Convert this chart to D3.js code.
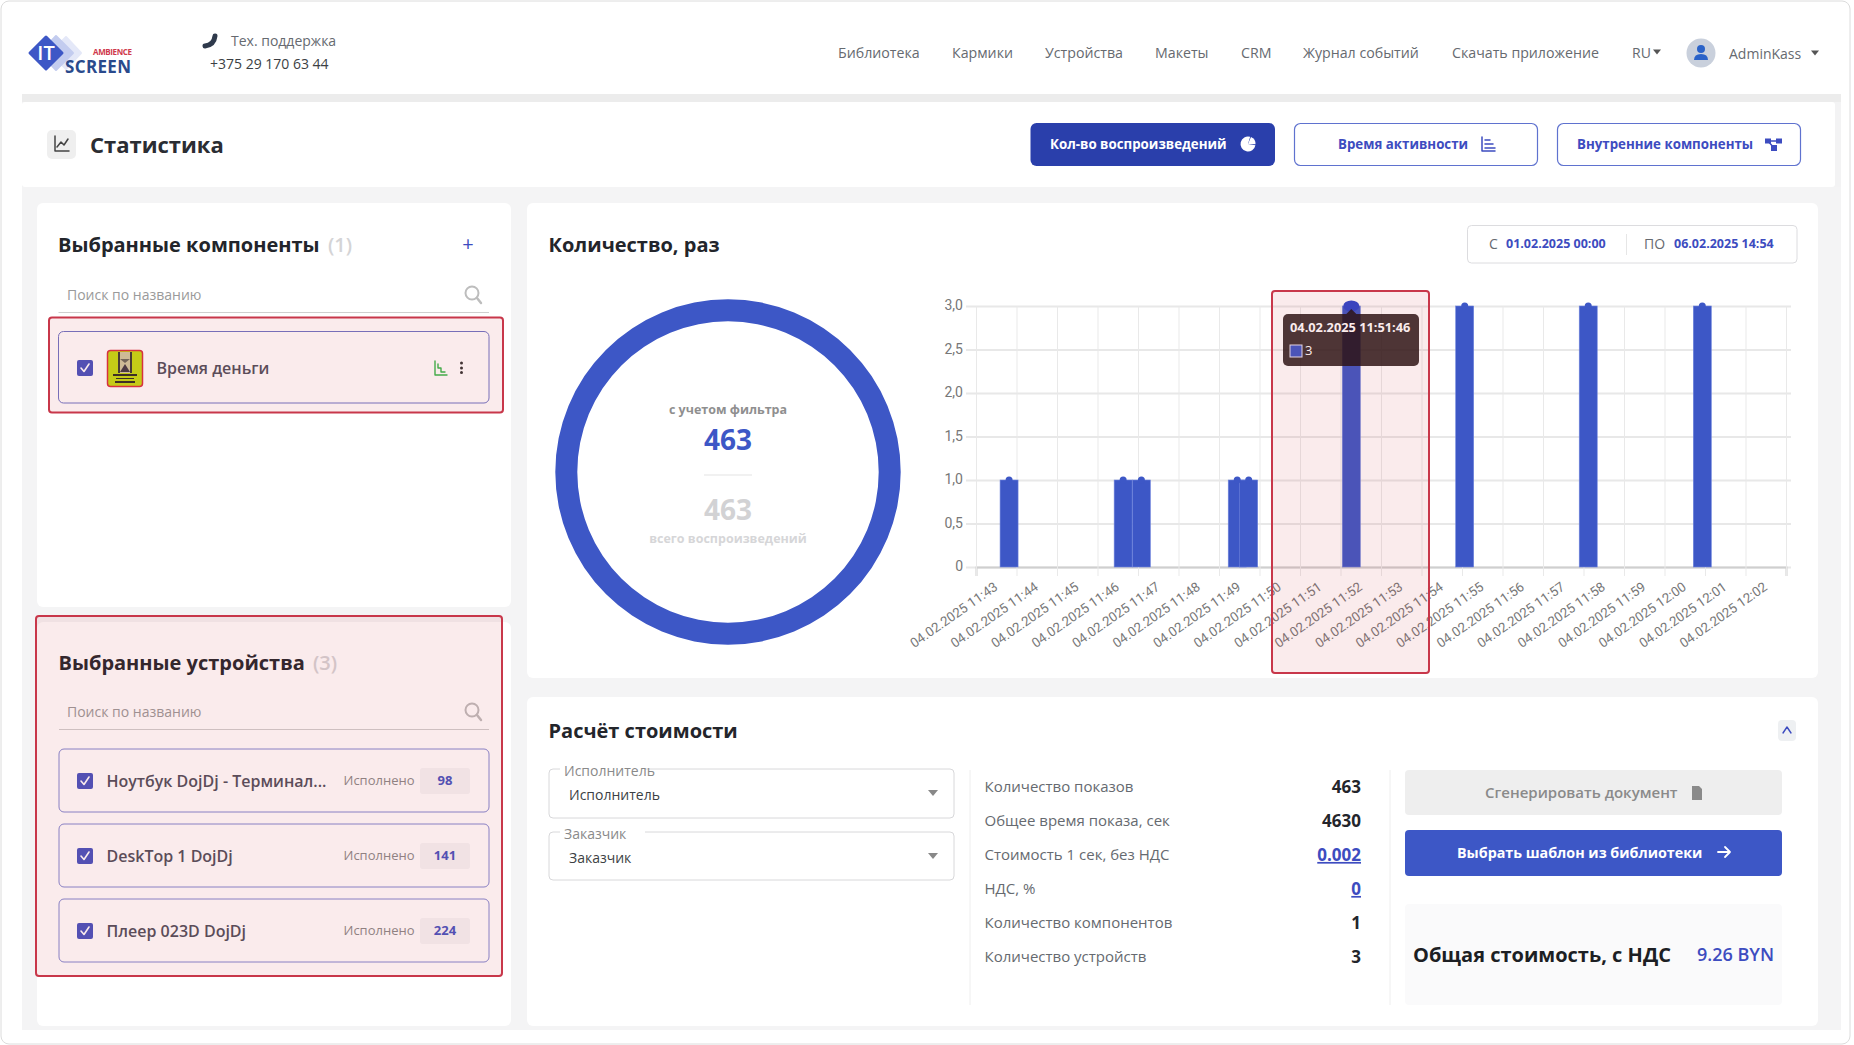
<!DOCTYPE html>
<html lang="ru">

<head>
  <meta charset="UTF-8">
  <title>Статистика</title>
  <style>
    html, body { margin: 0; padding: 0; background: #fff; overflow: hidden; }
    svg { display: block; font-family: "Open Sans", "Noto Sans", sans-serif; }
  </style>
</head>

<body>
  <div id="page"></div>
  <script src="https://d3js.org/d3.v7.min.js"></script>
  <script>
    // Chart values
    const barTimes = ["04.02.2025 11:43:19", "04.02.2025 11:46:08", "04.02.2025 11:46:35",
      "04.02.2025 11:48:57", "04.02.2025 11:49:14", "04.02.2025 11:51:46",
      "04.02.2025 11:54:34", "04.02.2025 11:57:37", "04.02.2025 12:00:26"];
    const barValues = [1, 1, 1, 1, 1, 3, 3, 3, 3];
    const xTickLabels = ["11:43", "11:44", "11:45", "11:46", "11:47", "11:48", "11:49", "11:50", "11:51", "11:52",
      "11:53", "11:54", "11:55", "11:56", "11:57", "11:58", "11:59", "12:00", "12:01", "12:02"];
    const yTicks = [0, 0.5, 1, 1.5, 2, 2.5, 3];
    const activeTime = "04.02.2025 11:51:46";

    const donutValues = [463];
    const totalPlays = 463;

    const navItems = ["Библиотека", "Кармики", "Устройства", "Макеты", "CRM", "Журнал событий", "Скачать приложение"];
    const navX = [838, 952, 1045, 1155, 1241, 1303, 1452];

    const deviceNames = ["Ноутбук DojDj - Терминал...", "DeskTop 1 DojDj", "Плеер 023D DojDj"];
    const deviceCounts = [98, 141, 224];

    const costLabels = ["Количество показов", "Общее время показа, сек", "Стоимость 1 сек, без НДС",
      "НДС, %", "Количество компонентов", "Количество устройств"];
    const costValues = ["463", "4630", "0.002", "0", "1", "3"];
    const costLinks = [false, false, true, true, false, false];

    const blue = "#3d57c6", navy = "#2a3fab", dark = "#23252b", gray = "#666a70";
    const redLine = "#c8374a", redTint = "rgba(204,55,70,0.10)";

    const svg = d3.select("#page").append("svg").attr("width", 1854).attr("height", 1045);

    function box(x, y, w, h, fill, stroke, r, sw) {
      return svg.append("rect").attr("x", x).attr("y", y).attr("width", w).attr("height", h)
        .attr("rx", r || 0).attr("fill", fill || "none").attr("stroke", stroke || "none").attr("stroke-width", sw || 1);
    }

    function label(x, y, str, size, weight, fill, anchor) {
      return svg.append("text").attr("x", x).attr("y", y).attr("dy", "0.35em")
        .attr("font-size", size).attr("font-weight", weight || 400).attr("fill", fill || dark)
        .attr("text-anchor", anchor || "start").text(str);
    }

    function shape(d, fill, stroke, sw) {
      return svg.append("path").attr("d", d).attr("fill", fill || "none").attr("stroke", stroke || "none")
        .attr("stroke-width", sw || 1).attr("stroke-linecap", "round").attr("stroke-linejoin", "round");
    }

    function caret(x, y, s, fill) {
      shape(`M${x - s} ${y - s * 0.6}L${x + s} ${y - s * 0.6}L${x} ${y + s * 0.6}Z`, fill);
    }

    function searchIcon(x, y) {
      svg.append("circle").attr("cx", x - 1).attr("cy", y - 2).attr("r", 6.5).attr("fill", "none").attr("stroke", "#bdbdbd").attr("stroke-width", 2);
      shape(`M${x + 4} ${y + 3}L${x + 8} ${y + 8}`, null, "#bdbdbd", 2.5);
    }

    function checkbox(x, y) {
      box(x, y - 8, 16, 16, "#4653c0", null, 2);
      shape(`M${x + 4} ${y}L${x + 7} ${y + 3.5}L${x + 12} ${y - 4}`, null, "#fff", 1.6);
    }

    // --- page frame ---
    box(1, 1, 1849, 1043, "#fff", "#dcdcdc", 8);
    box(22, 94, 1819, 8, "#ececec");
    box(22, 102, 1819, 85, "#f3f3f4");
    box(22, 102, 1813, 85, "#fff", null, 3);
    box(22, 187, 1819, 843, "#f4f4f5");

    // --- header ---
    shape("M66 37L81 53L66 69L50 53Z", "#e4e8f8", "#e4e8f8", 2);
    shape("M56 36L73 53L56 70L40 53Z", "#c3ccef", "#c3ccef", 2);
    shape("M46 37L62 53L46 69L30 53Z", blue, blue, 3);
    label(46, 53, "IT", 20, 600, "#fff", "middle");
    label(93, 52.5, "AMBIENCE", 8, 700, "#cf3a4c").attr("textLength", 39);
    label(65, 67, "SCREEN", 17, 700, "#2a4a8c").attr("textLength", 66);

    shape("M215 36Q214 45 205 46", null, "#2f3a4c", 5);
    label(231, 41, "Тех. поддержка", 14, 400, gray);
    label(210, 64, "+375 29 170 63 44", 14, 400, "#3c3f44");

    navItems.forEach((name, i) => label(navX[i], 53, name, 14.2, 400, gray));
    label(1632, 53, "RU", 14, 400, gray);
    caret(1657, 52, 4, "#555");
    svg.append("circle").attr("cx", 1701).attr("cy", 53).attr("r", 14.5).attr("fill", "#c9d0dc");
    svg.append("circle").attr("cx", 1701).attr("cy", 49).attr("r", 4).attr("fill", "#2a62c8");
    shape("M1694 60Q1694 54 1701 54Q1708 54 1708 60Z", "#2a62c8");
    label(1729, 54, "AdminKass", 14, 400, gray);
    caret(1815, 53, 4, "#555");

    // --- page title and mode buttons ---
    box(47, 130, 29, 29, "#efefef", null, 5);
    shape("M55 136V151H69M57 147L61 142L64 145L68 139", null, "#444", 1.5);
    label(90, 145, "Статистика", 22, 700, "#2b2d33");

    box(1030.5, 123, 244.5, 43, navy, null, 6);
    label(1050, 144, "Кол-во воспроизведений", 13.3, 700, "#fff");
    svg.append("g").attr("transform", "translate(1248,144) rotate(20)").selectAll("path")
      .data(d3.pie().sort(null).padAngle(0.12)([1, 4])).enter().append("path")
      .attr("d", d3.arc().innerRadius(0).outerRadius(7.5)).attr("fill", "#fff");

    box(1294.5, 123.5, 243, 42, "#fff", "#5f72cf", 6, 1.2);
    label(1338, 144, "Время активности", 13.3, 700, "#3d4cc0");
    shape("M1482 137V151H1495M1485 140H1490M1485 144H1493M1485 148H1495", null, "#3d4cc0", 1.5);

    box(1557.5, 123.5, 243, 42, "#fff", "#5f72cf", 6, 1.2);
    label(1577, 144, "Внутренние компоненты", 13.3, 700, "#3d4cc0");
    shape("M1768 141H1778M1768 141L1774 148", null, "#3d4cc0", 1.5);
    box(1765, 138.5, 6, 5, "#3d4cc0");
    box(1776, 138.5, 6, 5, "#3d4cc0");
    box(1771, 145, 6, 6, "#3d4cc0");

    // --- left column ---
    box(37, 203, 474, 404, "#fff", null, 6);
    box(37, 622, 474, 404, "#fff", null, 6);

    label(58, 245, "Выбранные компоненты", 20, 700, dark);
    label(328, 245, "(1)", 20, 600, "#d4d4d6");
    label(468, 244, "+", 20, 400, "#3d4cc0", "middle");
    label(67, 295, "Поиск по названию", 14, 400, "#9a9a9a");
    searchIcon(473, 295);
    svg.append("line").attr("x1", 58.5).attr("x2", 489).attr("y1", 312.5).attr("y2", 312.5).attr("stroke", "#cfcfcf");

    box(58.5, 331.5, 430.5, 71.5, "#fff", "#6e74c6", 5);
    checkbox(77, 368);
    // component thumbnail with the hourglass poster
    box(107.5, 350.5, 35, 36, "#c5dc12", "#d8303f", 3, 1.5);
    box(118, 352, 14, 21, "#cfc9a0");
    box(118, 352, 2, 21, "#3a3a35");
    box(130, 352, 2, 21, "#3a3a35");
    shape("M120 359L130 359L125 363Z", "#6a6a5c");
    shape("M125 364L130 372H120Z", "#3f3a44");
    box(113, 374, 24, 2, "#2e2e22");
    box(116, 378, 18, 1, "#2e2e22");
    box(115, 381, 20, 2, "#2e2e22");
    label(156.5, 368, "Время деньги", 16, 600, "#4f4f5c");
    shape("M435 361V375H447M438 364V368H441V372H445", null, "#35b84a", 1.4);
    [363, 368, 372.5].forEach(y => svg.append("circle").attr("cx", 461.5).attr("cy", y).attr("r", 1.5).attr("fill", "#333"));

    label(58.5, 663, "Выбранные устройства", 20, 700, dark);
    label(313, 663, "(3)", 20, 600, "#d4d4d6");
    label(67, 712, "Поиск по названию", 14, 400, "#9a9a9a");
    searchIcon(473, 712);
    svg.append("line").attr("x1", 59).attr("x2", 489).attr("y1", 729.5).attr("y2", 729.5).attr("stroke", "#cfcfcf");

    deviceNames.forEach((name, i) => {
      const top = 749 + i * 75;
      box(59, top, 430, 63, "#fff", "#8288d2", 5);
      checkbox(77, top + 32);
      label(106.5, top + 32, name, 16, 600, "#4f4f5c");
      label(343.5, top + 31, "Исполнено", 13, 400, "#8a8a8a");
      box(420, top + 19, 50, 26, "#f5f5f6", null, 3);
      label(445, top + 31, deviceCounts[i], 13, 700, "#4653c0", "middle");
    });

    // --- chart card ---
    box(527, 203, 1291, 475, "#fff", null, 6);
    label(548.5, 245, "Количество, раз", 20, 700, dark);

    box(1467.5, 225.5, 329.5, 37.5, "#fff", "#dcdcdf", 4);
    label(1489, 244, "С", 14, 400, gray);
    label(1506, 244, "01.02.2025 00:00", 12.5, 700, "#3d4cc0");
    svg.append("line").attr("x1", 1626.5).attr("x2", 1626.5).attr("y1", 234).attr("y2", 255).attr("stroke", "#e6e6e6");
    label(1644, 244, "ПО", 14, 400, gray);
    label(1674, 244, "06.02.2025 14:54", 12.5, 700, "#3d4cc0");

    // donut
    const donut = svg.append("g").attr("transform", "translate(728,472)");
    donut.selectAll("path").data(d3.pie()(donutValues)).enter().append("path")
      .attr("d", d3.arc().innerRadius(150.7).outerRadius(172.7)).attr("fill", blue);
    label(728, 410, "с учетом фильтра", 12.5, 700, "#8f8f8f", "middle");
    label(728, 440.5, donutValues[0], 28, 700, blue, "middle");
    svg.append("line").attr("x1", 704).attr("x2", 752).attr("y1", 475).attr("y2", 475).attr("stroke", "#ececec").attr("stroke-width", 1.5);
    label(728, 510.5, totalPlays, 28, 700, "#d2d2d4", "middle");
    label(728, 539, "всего воспроизведений", 12.5, 700, "#d6d6d8", "middle");

    // bar chart
    const parseTime = d3.timeParse("%d.%m.%Y %H:%M:%S");
    const tickDates = xTickLabels.map(t => parseTime(`04.02.2025 ${t}:00`));
    const x = d3.scaleTime()
      .domain([parseTime("04.02.2025 11:42:30"), parseTime("04.02.2025 12:02:30")])
      .range([976, 1786]);
    const y = d3.scaleLinear().domain([0, 3]).range([567, 306]);

    const gridX = d3.timeSecond.range(x.domain()[0], d3.timeSecond.offset(x.domain()[1], 1), 60);

    const gy = svg.append("g").attr("transform", "translate(976,0)")
      .call(d3.axisLeft(y).tickValues(yTicks).tickSize(10).tickPadding(3)
        .tickFormat(d => d === 0 ? "0" : d3.format(".1f")(d).replace(".", ",")));
    gy.select(".domain").remove();
    gy.selectAll("line").attr("x2", 815).attr("x1", -10).attr("stroke", "#e8e8e8").attr("stroke-width", 2);
    gy.selectAll("text").attr("font-size", 14).attr("font-family", "Roboto").attr("fill", "#777").attr("y", -0.5);

    const gGrid = svg.append("g").attr("transform", "translate(0,567)")
      .call(d3.axisBottom(x).tickValues(gridX).tickSize(9).tickFormat(""));
    gGrid.select(".domain").attr("stroke", "#cfcfcf").attr("stroke-width", 2);
    gGrid.selectAll("line").attr("y1", -261).attr("stroke", "#e9e9e9");

    const gx = svg.append("g").attr("transform", "translate(0,567)")
      .call(d3.axisBottom(x).tickValues(tickDates).tickSize(0).tickFormat(d3.timeFormat("%d.%m.%Y %H:%M")));
    gx.select(".domain").remove();
    gx.selectAll("text").attr("font-size", 13.3).attr("font-family", "Roboto").attr("fill", "#777")
      .attr("text-anchor", "end").attr("dy", 0).attr("y", 0)
      .attr("transform", "translate(2,22) rotate(-35)");

    const barWidth = 18;
    const bars = barTimes.map((t, i) => ({ time: t, date: parseTime(t), value: barValues[i] }));

    svg.append("g").selectAll("rect").data(bars).enter().append("rect")
      .attr("x", d => x(d.date) - barWidth / 2).attr("y", d => y(d.value))
      .attr("width", barWidth).attr("height", d => y(0) - y(d.value))
      .attr("fill", blue).attr("stroke", "#6f84dc").attr("stroke-width", 0.6);

    svg.append("g").selectAll("ellipse").data(bars).enter().append("ellipse")
      .attr("cx", d => x(d.date)).attr("cy", d => y(d.value))
      .attr("rx", d => d.time === activeTime ? 8 : 3.5).attr("ry", d => d.time === activeTime ? 5.5 : 3.5)
      .attr("fill", d => d.time === activeTime ? "#2a45cc" : blue);

    // tooltip
    const active = bars.find(d => d.time === activeTime);
    const tipX = x(active.date);
    box(1283, 314, 136, 52, "rgba(28,14,14,0.84)", null, 5);
    shape(`M${tipX - 5} 314L${tipX} 309L${tipX + 5} 314Z`, "rgba(28,14,14,0.84)");
    label(1290, 328, active.time, 12.8, 700, "#fff");
    box(1290, 345, 12, 12, blue, "#e6e6f2", 0, 1);
    label(1305, 350, active.value, 13, 400, "#fff");

    // --- cost card ---
    box(527, 697, 1291, 329, "#fff", null, 6);
    label(548.5, 731, "Расчёт стоимости", 20, 700, dark);
    box(1778, 720, 18, 21, "#eef0f2", null, 4);
    shape("M1783 733L1787 727L1791 733", null, "#3d4cc0", 1.4);

    [["Исполнитель", 769, 49], ["Заказчик", 832, 48]].forEach(([name, top, h]) => {
      box(549, top, 405, h, "#fff", "#d8d8da", 4);
      box(560, top - 4, 85, 8, "#fff");
      label(564, top + 2, name, 14, 400, "#8a8a8a");
      label(569, top + 26, name, 14, 400, "#3c3f44");
      caret(933, top + 24, 5, "#888");
    });

    svg.append("line").attr("x1", 970).attr("x2", 970).attr("y1", 770).attr("y2", 1005).attr("stroke", "#eee");
    svg.append("line").attr("x1", 1390).attr("x2", 1390).attr("y1", 770).attr("y2", 1005).attr("stroke", "#eee");

    costLabels.forEach((name, i) => {
      const rowY = 787 + i * 34;
      label(984.5, rowY, name, 15, 400, gray);
      const v = label(1361, rowY, costValues[i], 17, 700, costLinks[i] ? "#3d4cc0" : dark, "end");
      if (costLinks[i]) v.attr("text-decoration", "underline");
    });

    box(1405, 770, 377, 45, "#eeeeee", null, 4);
    label(1485, 793, "Сгенерировать документ", 15, 600, "#8a8a8a");
    shape("M1692 786H1699L1702 789V800H1692Z", "#8a8a8a");

    box(1405, 830, 377, 46, blue, null, 4);
    label(1457, 853, "Выбрать шаблон из библиотеки", 14.3, 700, "#fff");
    shape("M1718 852H1730M1725 847L1730 852L1725 857", null, "#fff", 1.8);

    box(1405, 904, 377, 101, "#fafafb", null, 4);
    label(1413, 955, "Общая стоимость, с НДС", 20, 700, "#1d1f24");
    label(1697, 955, "9.26 BYN", 18, 600, "#3d4cc0");

    // --- red highlight boxes, drawn over everything ---
    box(49, 317.5, 454, 95, redTint, redLine, 3, 2);
    box(36, 616, 466, 360, redTint, redLine, 3, 2);
    box(1272, 291, 157, 382, redTint, redLine, 3, 2);
  </script>
</body>

</html>
